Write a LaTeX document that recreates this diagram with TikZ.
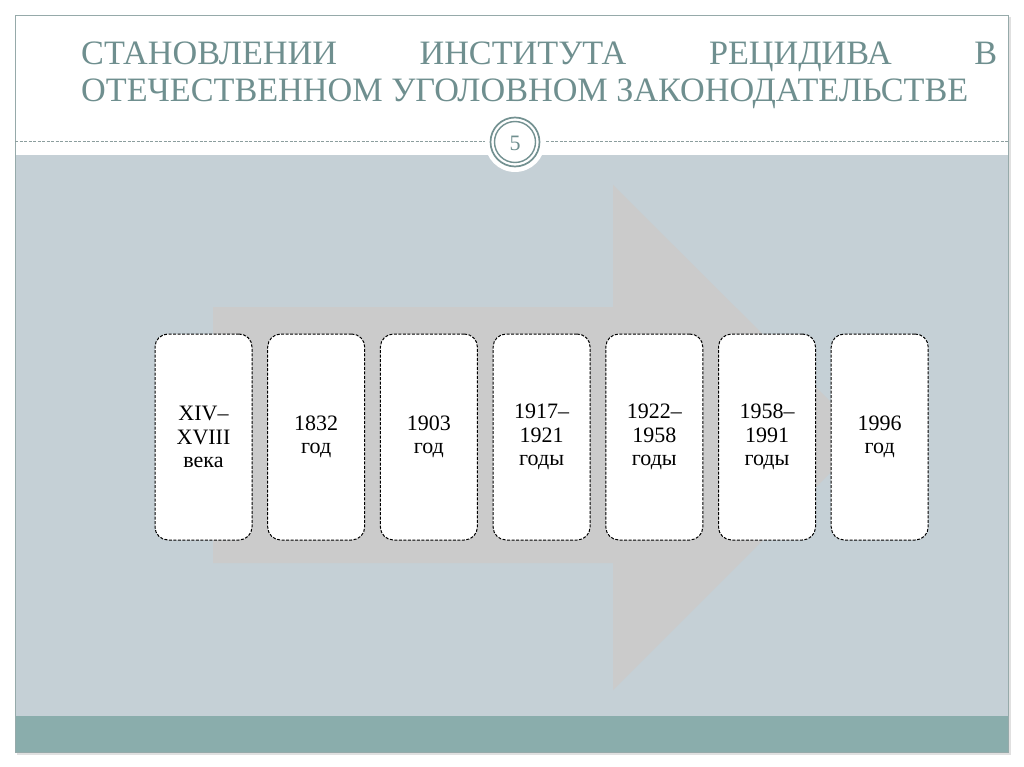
\documentclass[tikz,border=0pt]{standalone}
\usepackage{fontspec}
\setmainfont{Liberation Serif}
\definecolor{bgblue}{RGB}{197,208,214}
\definecolor{bandteal}{RGB}{138,173,172}
\definecolor{arrowgray}{RGB}{203,203,203}
\definecolor{titlecol}{RGB}{111,143,143}
\definecolor{framecol}{RGB}{150,170,170}
\definecolor{ringcol}{RGB}{115,145,145}
\definecolor{dashcol}{RGB}{140,158,158}
\tikzset{
  yearbox/.style={draw=black, fill=white, line width=1pt, dash pattern=on 3pt off 1.5pt,
    rounded corners=13pt, minimum width=97pt, minimum height=206pt, align=center,
    font=\fontsize{22}{23.5}\selectfont, inner sep=2pt},
  titletext/.style={anchor=base west, inner sep=0pt, text=titlecol, font=\fontsize{34.2}{40}\selectfont}
}
\begin{document}
\begin{tikzpicture}[x=1pt,y=-1pt]
\useasboundingbox (0,0) rectangle (1024,767);
\fill[white] (0,0) rectangle (1024,767);
% background panels
\fill[bgblue] (15,155) rectangle (1008,716);
\fill[bandteal] (15,716) rectangle (1008,752);
\draw[framecol, line width=0.8pt] (15,15) rectangle (1008,752);
\draw[black!12, line width=1.2pt] (1010,17) -- (1010,754) -- (17,754);
% dashed separator
\draw[dashcol, line width=0.7pt, dash pattern=on 3pt off 1.5pt] (15,141) -- (1008,141);
% page number disk
\fill[white] (515,142) circle (30);
\draw[ringcol, line width=1.7pt] (515,142) circle (24.5);
\draw[ringcol, line width=1.4pt] (515,142) circle (20.5);
\node[text=titlecol, font=\fontsize{22}{24}\selectfont] (pnum) at (515,143) {5};
% title
\node[titletext] (title1) at (81,65) {\makebox[916pt][s]{СТАНОВЛЕНИИ\hfill ИНСТИТУТА\hfill РЕЦИДИВА\hfill В}};
\node[titletext] (title2) at (81,102) {ОТЕЧЕСТВЕННОМ УГОЛОВНОМ ЗАКОНОДАТЕЛЬСТВЕ};
% big arrow
\fill[arrowgray] (213,307) -- (613,307) -- (613,185) -- (866,437) -- (613,690) -- (613,563) -- (213,563) -- cycle;
% year boxes
\node[yearbox] (b1) at (203.5,437) {XIV–\\XVIII\\века};
\node[yearbox] (b2) at (316.2,437) {1832\\год};
\node[yearbox] (b3) at (428.9,437) {1903\\год};
\node[yearbox] (b4) at (541.6,437) {1917–\\1921\\годы};
\node[yearbox] (b5) at (654.3,437) {1922–\\1958\\годы};
\node[yearbox] (b6) at (767.0,437) {1958–\\1991\\годы};
\node[yearbox] (b7) at (879.7,437) {1996\\год};
\end{tikzpicture}
\end{document}
